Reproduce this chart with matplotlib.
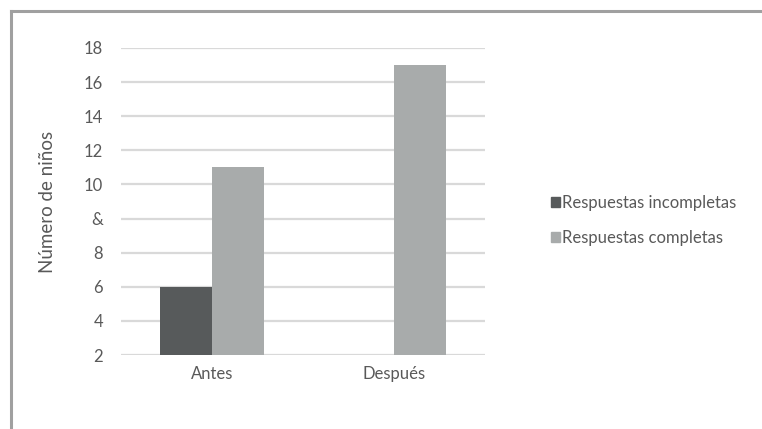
import numpy as np
from matplotlib import pyplot as plt
from matplotlib.lines import Line2D
from matplotlib.patches import Patch

categorias = ['Antes', 'Después']
incompletas = [6, np.nan]
completas = [13, 19]
ticks_y = [2, 4, 6, 8, 10, 12, 14, 16, 18, 20]
etiquetas_y = ['2', '4', '6', '8', '&', '10', '12', '14', '16', '18']

plt.rcParams['font.family'] = ['Lato', 'DejaVu Sans']
gris_texto = '#595959'

fig = plt.figure(figsize=(7.62, 4.29), dpi=100)
ax = fig.add_axes([121 / 762, 1 - 355 / 429, 364 / 762, 307 / 429])

x = np.arange(len(categorias))
ancho = 0.285
ax.bar(x - ancho / 2, np.array(incompletas) - 2, ancho, bottom=2,
       color='#575a5b', label='Respuestas incompletas', zorder=3)
ax.bar(x + ancho / 2, np.array(completas) - 2, ancho, bottom=2,
       color='#a8abab', label='Respuestas completas', zorder=3)

ax.set_xlim(-0.5, 1.5)
ax.set_ylim(2, 20)
ax.set_yticks(ticks_y)
ax.set_yticklabels(etiquetas_y)
ax.set_xticks(x)
ax.set_xticklabels(categorias)
ax.tick_params(length=0, labelsize=12, colors=gris_texto, pad=13)
ax.tick_params(axis='x', pad=8)
ax.grid(axis='y', color='#d9d9d9', linewidth=1.6, zorder=0)
for s in ax.spines.values():
    s.set_visible(False)
ax.set_ylabel('Número de niños', fontsize=13.5, color=gris_texto,
              labelpad=20)

handles = [Patch(color='#575a5b'), Patch(color='#a8abab')]
fig.legend(handles, ['Respuestas incompletas', 'Respuestas completas'],
           loc='upper left', bbox_to_anchor=(544 / 762, 1 - 188 / 429),
           frameon=False, handlelength=0.55, handleheight=0.55,
           handletextpad=0.15, labelspacing=1.15, borderaxespad=0,
           prop={'size': 12}, labelcolor=gris_texto)

# marco gris arriba e izquierda
fig.add_artist(Line2D([10.5 / 762, 1], [1 - 11 / 429] * 2, color='#a0a0a0',
                      linewidth=2.2, transform=fig.transFigure))
fig.add_artist(Line2D([10.5 / 762] * 2, [0, 1 - 11 / 429], color='#a0a0a0',
                      linewidth=2.2, transform=fig.transFigure))

fig.savefig('out.png', dpi=100)
